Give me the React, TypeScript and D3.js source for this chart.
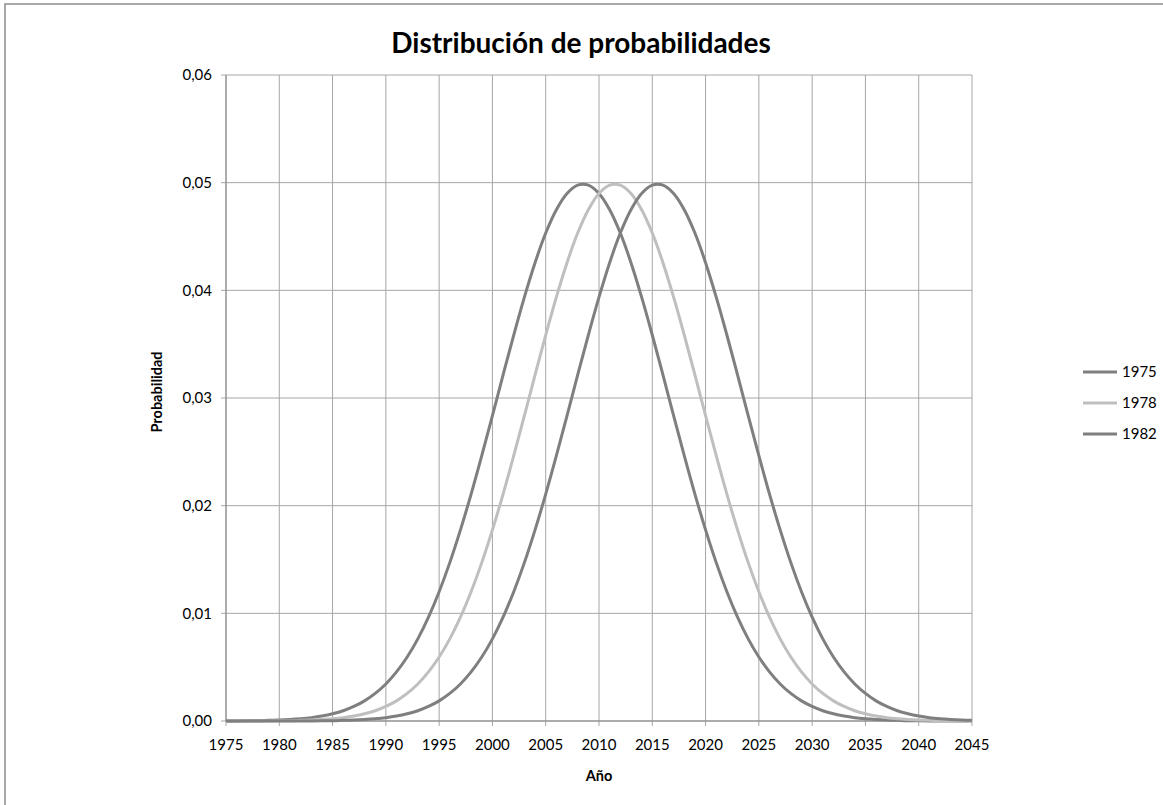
import React from "react";
import * as d3 from "d3";

const years: number[] = d3.range(1975, 2046);
const seriesNames: string[] = ["1975", "1978", "1982"];

const p1975: number[] = [0.00001,0.00001,0.00002,0.00003,0.00006,0.00009,0.00014,0.00021,0.00031,0.00046,0.00067,0.00095,0.00135,0.00187,0.00256,0.00344,0.00456,0.00594,0.00763,0.00965,0.01201,0.01471,0.01775,0.02107,0.02464,0.02836,0.03214,0.03585,0.03937,0.04257,0.04532,0.04749,0.04900,0.04977,0.04977,0.04900,0.04749,0.04532,0.04257,0.03937,0.03585,0.03214,0.02836,0.02464,0.02107,0.01775,0.01471,0.01201,0.00965,0.00763,0.00594,0.00456,0.00344,0.00256,0.00187,0.00135,0.00095,0.00067,0.00046,0.00031,0.00021,0.00014,0.00009,0.00006,0.00003,0.00002,0.00001,0.00001,0,0,0];
const p1978: number[] = [0,0,0,0.00001,0.00001,0.00002,0.00003,0.00006,0.00009,0.00014,0.00021,0.00031,0.00046,0.00067,0.00095,0.00135,0.00187,0.00256,0.00344,0.00456,0.00594,0.00763,0.00965,0.01201,0.01471,0.01775,0.02107,0.02464,0.02836,0.03214,0.03585,0.03937,0.04257,0.04532,0.04749,0.04900,0.04977,0.04977,0.04900,0.04749,0.04532,0.04257,0.03937,0.03585,0.03214,0.02836,0.02464,0.02107,0.01775,0.01471,0.01201,0.00965,0.00763,0.00594,0.00456,0.00344,0.00256,0.00187,0.00135,0.00095,0.00067,0.00046,0.00031,0.00021,0.00014,0.00009,0.00006,0.00003,0.00002,0.00001,0.00001];
const p1982: number[] = [0,0,0,0,0,0,0,0.00001,0.00001,0.00002,0.00003,0.00006,0.00009,0.00014,0.00021,0.00031,0.00046,0.00067,0.00095,0.00135,0.00187,0.00256,0.00344,0.00456,0.00594,0.00763,0.00965,0.01201,0.01471,0.01775,0.02107,0.02464,0.02836,0.03214,0.03585,0.03937,0.04257,0.04532,0.04749,0.04900,0.04977,0.04977,0.04900,0.04749,0.04532,0.04257,0.03937,0.03585,0.03214,0.02836,0.02464,0.02107,0.01775,0.01471,0.01201,0.00965,0.00763,0.00594,0.00456,0.00344,0.00256,0.00187,0.00135,0.00095,0.00067,0.00046,0.00031,0.00021,0.00014,0.00009,0.00006];

const xTicks: number[] = d3.range(1975, 2046, 5);
const yTicks: number[] = [0, 0.01, 0.02, 0.03, 0.04, 0.05, 0.06];

const seriesValues = [p1975, p1978, p1982];
const colors = ["#7f7f7f", "#bfbfbf", "#7f7f7f"];

const W = 1163;
const H = 805;
const FONT = "Lato, 'Open Sans', sans-serif";

export default function App() {
  const x = d3.scaleLinear().domain([1975, 2045]).range([226, 972]);
  const y = d3.scaleLinear().domain([0, 0.06]).range([721, 75]);
  const line = d3
    .line<number>()
    .x((_, i) => x(years[i]))
    .y((v) => y(v))
    .curve(d3.curveCatmullRom);

  const fmt = (v: number) => v.toFixed(2).replace(".", ",");
  const legendY = [372, 403, 434];

  return (
    <svg
      width={W}
      height={H}
      style={{ position: "absolute", left: 0, top: 0, background: "#fff" }}
      fontFamily={FONT}
    >
      <rect x={5} y={4} width={1180} height={830} fill="#fff" stroke="#8c8c8c" strokeWidth={1.5} />
      <text x={581} y={53} textAnchor="middle" fontSize={28} fontWeight="bold" fill="#000">
        Distribución de probabilidades
      </text>
      {/* grid */}
      {xTicks.map((t) => (
        <line key={"gx" + t} x1={x(t)} x2={x(t)} y1={y(0.06)} y2={y(0) + 5} stroke="#a6a6a6" strokeWidth={1} />
      ))}
      {yTicks.map((t) => (
        <line key={"gy" + t} x1={x(1975) - 5} x2={x(2045)} y1={y(t)} y2={y(t)} stroke="#a6a6a6" strokeWidth={1} />
      ))}
      <line x1={x(1975)} x2={x(1975)} y1={y(0.06)} y2={y(0)} stroke="#868686" strokeWidth={1} />
      <line x1={x(1975)} x2={x(2045)} y1={y(0)} y2={y(0)} stroke="#868686" strokeWidth={1} />
      {/* y labels */}
      {yTicks.map((t) => (
        <text key={"yl" + t} x={212} y={y(t)} dy="0.35em" textAnchor="end" fontSize={15} fill="#000">
          {fmt(t)}
        </text>
      ))}
      {xTicks.map((t) => (
        <text key={"xl" + t} x={x(t)} y={745} dy="0.35em" textAnchor="middle" fontSize={15} fill="#000">
          {t}
        </text>
      ))}
      <text x={599} y={776} dy="0.35em" textAnchor="middle" fontSize={14.5} fontWeight="bold" fill="#000">
        Año
      </text>
      <text
        transform={`translate(157,392) rotate(-90)`}
        textAnchor="middle"
        dy="0.35em"
        fontSize={14.5}
        fontWeight="bold"
        fill="#000"
      >
        Probabilidad
      </text>
      {/* series */}
      {seriesValues.map((vals, i) => (
        <path key={"s" + i} d={line(vals) || ""} fill="none" stroke={colors[i]} strokeWidth={3} />
      ))}
      {/* legend */}
      {seriesNames.map((n, i) => (
        <g key={"lg" + n}>
          <line x1={1083} x2={1117} y1={legendY[i]} y2={legendY[i]} stroke={colors[i]} strokeWidth={3} />
          <text x={1122} y={legendY[i]} dy="0.35em" fontSize={15} fill="#000">
            {n}
          </text>
        </g>
      ))}
    </svg>
  );
}
